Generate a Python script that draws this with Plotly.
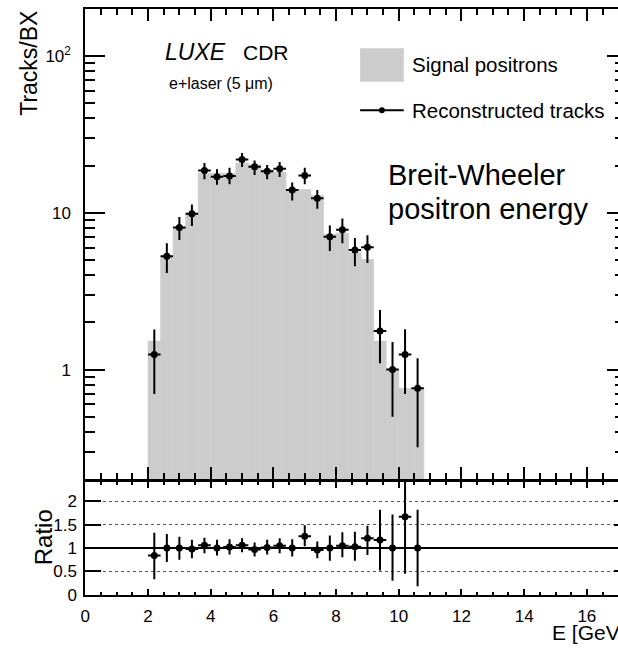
import math
import plotly.graph_objects as go

# ---------------- data ----------------
bin_centers = [2.2, 2.6, 3.0, 3.4, 3.8, 4.2, 4.6, 5.0, 5.4, 5.8, 6.2,
               6.6, 7.0, 7.4, 7.8, 8.2, 8.6, 9.0, 9.4, 9.8, 10.2, 10.6]
bin_width = 0.4

signal_positrons = [1.52, 5.3, 8.05, 9.9, 17.9, 17.9, 17.9, 20.8, 20.3, 18.8, 18.2,
                    14.1, 14.1, 12.9, 7.3, 7.4, 5.6, 5.05, 1.52, 1.0, 0.76, 0.76]

reco_tracks = [1.25, 5.28, 8.05, 9.87, 18.6, 17.0, 17.2, 21.9, 19.7, 18.4, 19.1,
               14.0, 17.3, 12.4, 7.05, 7.8, 5.8, 6.03, 1.76, 1.0, 1.25, 0.76]
reco_lo = [0.70, 4.14, 6.72, 8.24, 16.4, 15.1, 15.2, 19.6, 17.4, 16.4, 16.9,
           12.0, 15.2, 10.6, 5.7, 6.4, 4.56, 4.79, 1.10, 0.50, 0.70, 0.32]
reco_hi = [1.80, 6.4, 9.41, 11.3, 20.8, 19.0, 19.4, 24.1, 21.6, 20.2, 21.1,
           15.6, 19.4, 14.0, 8.3, 9.2, 6.9, 7.2, 2.40, 1.5, 1.81, 1.18]

ratio = [0.84, 1.0, 1.0, 0.98, 1.06, 1.0, 1.02, 1.06, 0.97, 1.01, 1.05,
         1.0, 1.25, 0.96, 1.0, 1.05, 1.03, 1.21, 1.17, 1.0, 1.67, 1.0]
ratio_lo = [0.33, 0.70, 0.75, 0.78, 0.89, 0.84, 0.86, 0.91, 0.82, 0.86, 0.89,
            0.82, 1.04, 0.78, 0.73, 0.80, 0.73, 0.85, 0.52, 0.30, 0.45, 0.18]
ratio_hi = [1.33, 1.30, 1.24, 1.18, 1.22, 1.18, 1.19, 1.21, 1.12, 1.18, 1.21,
            1.19, 1.49, 1.14, 1.27, 1.34, 1.35, 1.48, 1.82, 1.72, 2.90, 1.82]

main_tickvals = [1, 10, 100]
main_ticktext = ["1", "10", "10<sup>2</sup>"]
main_minor = [0.2, 0.3, 0.4, 0.5, 0.6, 0.7, 0.8, 0.9,
              2, 3, 4, 5, 6, 7, 8, 9, 20, 30, 40, 50, 60, 70, 80, 90, 200]
ratio_tickvals = [0, 0.5, 1, 1.5, 2]
ratio_ticktext = ["0", "0.5", "1", "1.5", "2"]

# ---------------- layout helpers ----------------
W, H = 618, 649
FONT = "Liberation Sans, Arial, Helvetica, sans-serif"
GREY = "#cccccc"
TICKFONT = 17


def px(x):
    return x / W


def py(y):
    return 1 - y / H


x_dom = [px(81), 1.0]
x_range = [0, (W - 81) / 31.6]
top_dom = [py(486.7), py(9)]
rat_dom = [py(604), py(489.3)]

fig = go.Figure()

fig.add_trace(go.Bar(x=bin_centers, y=signal_positrons, width=bin_width,
                     marker=dict(color=GREY, line=dict(width=0.6, color=GREY)),
                     xaxis="x", yaxis="y", showlegend=False, hoverinfo="skip"))

fig.add_trace(go.Scatter(
    x=bin_centers, y=reco_tracks, mode="markers",
    marker=dict(size=7, color="black"),
    error_y=dict(type="data", symmetric=False,
                 array=[h - v for h, v in zip(reco_hi, reco_tracks)],
                 arrayminus=[v - l for v, l in zip(reco_tracks, reco_lo)],
                 color="black", thickness=2, width=0),
    error_x=dict(type="constant", value=bin_width / 2, color="black", thickness=2, width=0),
    xaxis="x", yaxis="y", showlegend=False))

# invisible trace so the right-hand tick axis is drawn
fig.add_trace(go.Scatter(x=[1], y=[1], mode="markers", marker=dict(opacity=0),
                         xaxis="x", yaxis="y3", showlegend=False, hoverinfo="skip"))

fig.add_trace(go.Scatter(
    x=bin_centers, y=ratio, mode="markers",
    marker=dict(size=7, color="black"),
    error_y=dict(type="data", symmetric=False,
                 array=[h - v for h, v in zip(ratio_hi, ratio)],
                 arrayminus=[v - l for v, l in zip(ratio, ratio_lo)],
                 color="black", thickness=2, width=0),
    error_x=dict(type="constant", value=bin_width / 2, color="black", thickness=2, width=0),
    xaxis="x2", yaxis="y2", showlegend=False))

fig.add_trace(go.Scatter(x=[1], y=[1], mode="markers", marker=dict(opacity=0),
                         xaxis="x2", yaxis="y4", showlegend=False, hoverinfo="skip"))

common_x = dict(domain=x_dom, range=x_range, showline=True, linewidth=2, linecolor="black",
                mirror="ticks", ticks="inside", tickcolor="black", tickwidth=1.5,
                tick0=0, dtick=2, showgrid=False, zeroline=False)

fig.update_layout(
    width=W, height=H,
    margin=dict(l=0, r=0, t=0, b=0),
    paper_bgcolor="white", plot_bgcolor="white",
    font=dict(family=FONT, color="black", size=TICKFONT),
    barmode="overlay",
    xaxis=dict(**common_x, anchor="y", ticklen=12, showticklabels=False,
               minor=dict(dtick=0.5, ticks="inside", ticklen=6, tickcolor="black", tickwidth=1.5)),
    yaxis=dict(domain=top_dom, type="log", range=[math.log10(0.2), math.log10(200)],
               anchor="x", showline=True, linewidth=2, linecolor="black", mirror=False,
               ticks="inside", ticklen=20, tickwidth=1.5, tickcolor="black",
               tickvals=main_tickvals, ticktext=main_ticktext, ticklabelstandoff=9,
               tickfont=dict(size=TICKFONT),
               minor=dict(tickvals=main_minor, ticks="inside", ticklen=10,
                          tickcolor="black", tickwidth=1.5),
               showgrid=False, zeroline=False),
    yaxis3=dict(overlaying="y", side="right", anchor="x", type="log",
                range=[math.log10(0.2), math.log10(200)], showline=False,
                ticks="inside", ticklen=11, tickwidth=1.5, tickcolor="black",
                tickvals=main_tickvals, showticklabels=False,
                minor=dict(tickvals=main_minor, ticks="inside", ticklen=3,
                           tickcolor="black", tickwidth=1.5),
                showgrid=False, zeroline=False),
    xaxis2=dict(**common_x, anchor="y2", ticklen=6, showticklabels=True,
                tickfont=dict(size=TICKFONT), ticklabelstandoff=5,
                minor=dict(dtick=0.5, ticks="inside", ticklen=3, tickcolor="black", tickwidth=1.5)),
    yaxis2=dict(domain=rat_dom, range=[0, 2.42], anchor="x2", showline=True, linewidth=2,
                linecolor="black", ticks="inside", ticklen=16, tickwidth=1.5, tickcolor="black",
                tickvals=ratio_tickvals, ticktext=ratio_ticktext, ticklabelstandoff=3,
                tickfont=dict(size=TICKFONT),
                showgrid=True, gridcolor="#555555", gridwidth=1, griddash="dot",
                zeroline=False),
    yaxis4=dict(overlaying="y2", side="right", anchor="x2", range=[0, 2.42], showline=False,
                ticks="inside", ticklen=4, tickwidth=1.5, tickcolor="black",
                tickvals=ratio_tickvals, showticklabels=False, showgrid=False, zeroline=False),
)

shapes = [
    # ratio = 1 reference line
    dict(type="line", xref="x2 domain", yref="y2", x0=0, x1=1, y0=1, y1=1,
         line=dict(color="black", width=2), layer="above"),
    # legend: filled box
    dict(type="rect", xref="paper", yref="paper", x0=px(358), x1=px(402), y0=py(83), y1=py(49),
         fillcolor=GREY, line=dict(width=0)),
    # legend: line with marker
    dict(type="line", xref="paper", yref="paper", x0=px(358), x1=px(402), y0=py(112), y1=py(112),
         line=dict(color="black", width=2)),
    dict(type="circle", xref="paper", yref="paper", x0=px(377), x1=px(383), y0=py(115), y1=py(109),
         fillcolor="black", line=dict(width=0)),
]
fig.update_layout(shapes=shapes)


def ann(text, x, y, size, xanchor="left", yanchor="middle", angle=0):
    fig.add_annotation(text=text, x=px(x), y=py(y), xref="paper", yref="paper",
                       xanchor=xanchor, yanchor=yanchor, showarrow=False, textangle=angle,
                       font=dict(family=FONT, size=size, color="black"))


ann("Signal positrons", 408, 66, 20.5)
ann("Reconstructed tracks", 408, 112, 20.5)
ann("<i>LUXE</i>", 159, 53, 23)
ann("CDR", 238, 53, 21)
ann("e+laser (5 μm)", 163, 85, 16)
ann("Breit-Wheeler", 384, 178, 29)
ann("positron energy", 384, 212, 29)
ann("Tracks/BX", 24, 64, 23, xanchor="center", angle=-90)
ann("Ratio", 39, 546, 24, xanchor="center", angle=-90)
ann("E [GeV]", 549, 642, 21)

fig.write_html("out.html")
